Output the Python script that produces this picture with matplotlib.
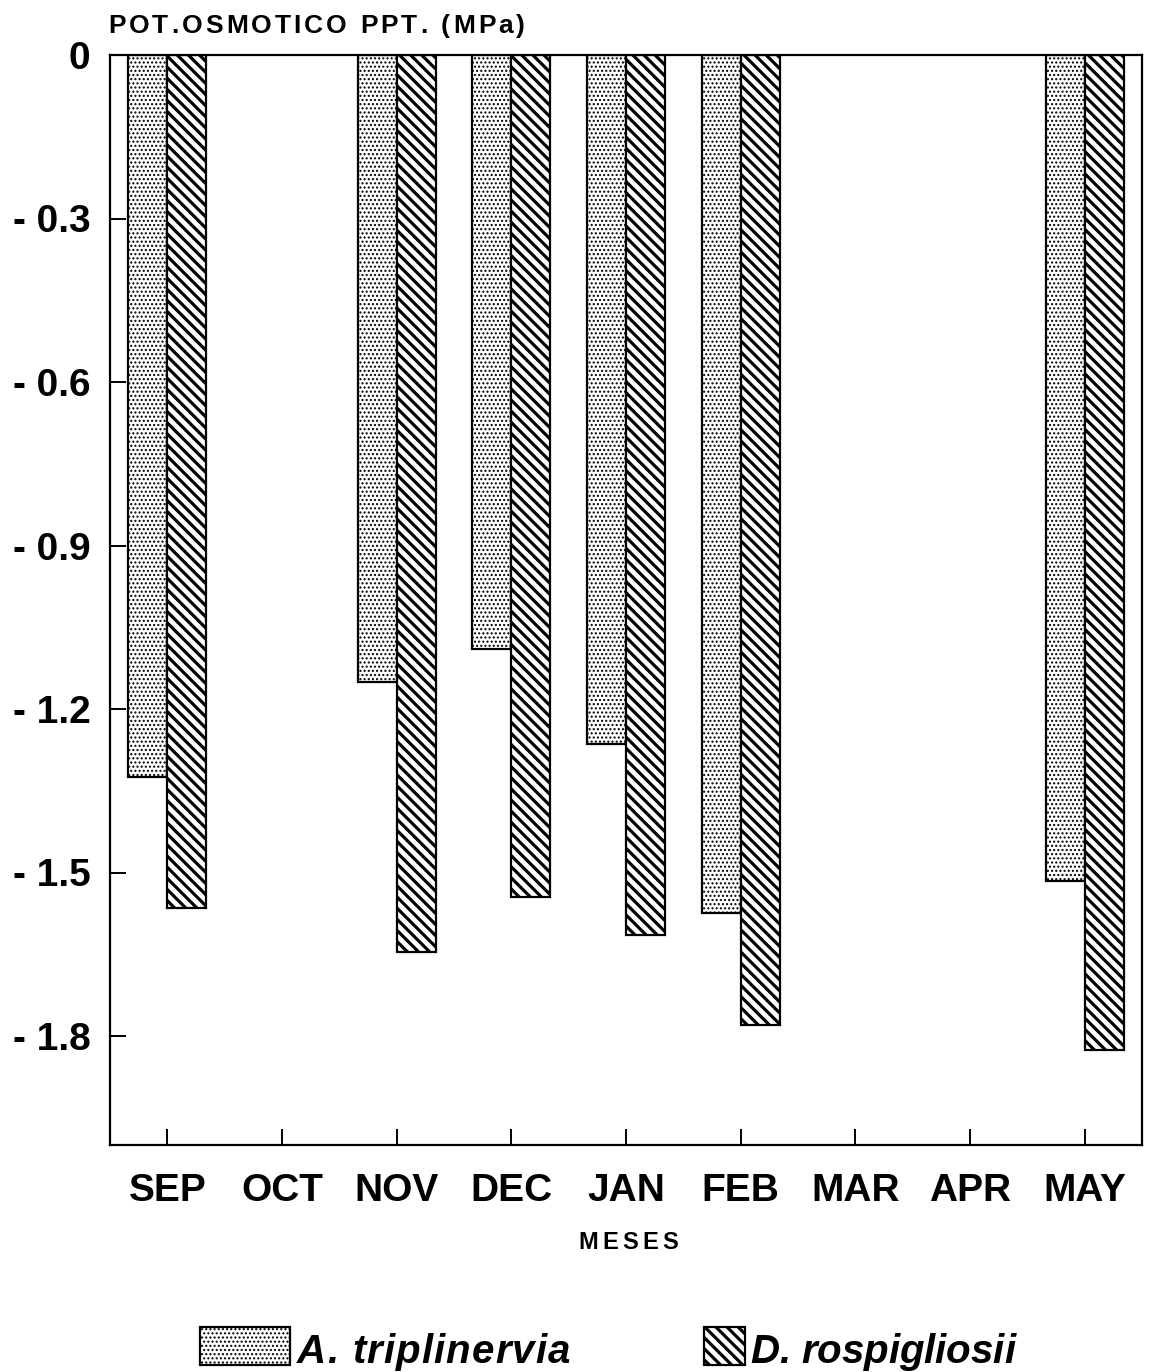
import matplotlib
matplotlib.use("Agg")
import matplotlib.pyplot as plt
from matplotlib.patches import Rectangle
from matplotlib.font_manager import FontProperties, findfont
from matplotlib.ft2font import FT2Font
import numpy as np

# Osmotic potential at full turgor (MPa) by month for two species
months = ["SEP", "OCT", "NOV", "DEC", "JAN", "FEB", "MAR", "APR", "MAY"]
a_triplinervia = [-1.325, None, -1.15, -1.09, -1.265, -1.575, None, None, -1.515]
d_rospigliosii = [-1.565, None, -1.645, -1.545, -1.615, -1.78, None, None, -1.825]
y_ticks = [0, -0.3, -0.6, -0.9, -1.2, -1.5, -1.8]
y_tick_labels = ["0", "- 0.3", "- 0.6", "- 0.9", "- 1.2", "- 1.5", "- 1.8"]
species = ["A. triplinervia", "D. rospigliosii"]

W, H, DPI = 1150, 1372, 100
FAMILY = "Liberation Sans"

plt.rcParams["font.family"] = [FAMILY, "DejaVu Sans"]
plt.rcParams["font.weight"] = "bold"

fig = plt.figure(figsize=(W / DPI, H / DPI), dpi=DPI)
fig.patch.set_facecolor("white")

ax_l, ax_r, ax_t, ax_b = 110, 1142, 55, 1145
ax = fig.add_axes([ax_l / W, 1 - ax_b / H, (ax_r - ax_l) / W, (ax_b - ax_t) / H])


def present(values):
    idx = [i for i, v in enumerate(values) if v is not None]
    return np.array(idx, dtype=float), np.array([values[i] for i in idx])


DOTS, DOTS_LW = "....", 1.0
STRIPES, STRIPES_LW = "\\\\\\", 2.3

bw = 0.34
xa, ya = present(a_triplinervia)
xd, yd = present(d_rospigliosii)
with plt.rc_context({"hatch.linewidth": DOTS_LW}):
    ax.bar(xa - bw / 2, ya, width=bw, facecolor="white", edgecolor="black",
           hatch=DOTS, linewidth=1.6, zorder=2)
with plt.rc_context({"hatch.linewidth": STRIPES_LW}):
    ax.bar(xd + bw / 2, yd, width=bw, facecolor="white", edgecolor="black",
           hatch=STRIPES, linewidth=1.6, zorder=2)

ax.set_xlim(-0.5, len(months) - 0.5)
ax.set_ylim(-2.0, 0)
ax.set_xticks(range(len(months)))
ax.set_xticklabels(months)
ax.set_yticks(y_ticks)
ax.set_yticklabels(y_tick_labels)
for s in ax.spines.values():
    s.set_linewidth(1.6)
ax.tick_params(axis="both", direction="in", length=11.5, width=1.4, labelsize=28)
ax.tick_params(axis="x", pad=20)
ax.tick_params(axis="y", pad=14)
for lbl in ax.get_xticklabels() + ax.get_yticklabels():
    lbl.set_fontweight("bold")


def tracked_text(s, left_px, right_px, baseline_px, size, style="normal"):
    """Draw a string with letter spacing so it spans left_px..right_px."""
    fp = FontProperties(family=FAMILY, weight="bold", style=style, size=size)
    font = FT2Font(findfont(fp))
    font.set_size(size, DPI)
    adv = []
    for ch in s:
        g = font.load_char(ord(ch))
        adv.append(g.linearHoriAdvance / 65536.0)
    natural = sum(adv[:-1])
    last = adv[-1]
    extra = (right_px - left_px - natural - last) / max(len(s) - 1, 1)
    x = left_px
    for ch, a in zip(s, adv):
        if ch != " ":
            fig.text(x / W, 1 - baseline_px / H, ch, fontproperties=fp,
                     ha="left", va="baseline")
        x += a + extra


tracked_text("POT.OSMOTICO PPT. (MPa)", 108, 525, 33, 19)
tracked_text("MESES", 578, 678, 1249, 17)

# Legend drawn in figure pixels
legend_items = [
    (species[0], DOTS, DOTS_LW, (200, 290), (297, 570)),
    (species[1], STRIPES, STRIPES_LW, (704, 745), (750, 1015)),
]
for label, hatch, hlw, (p0, p1), (t0, t1) in legend_items:
    with plt.rc_context({"hatch.linewidth": hlw}):
        rect = Rectangle((p0 / W, 1 - 1365 / H), (p1 - p0) / W, 38 / H,
                         transform=fig.transFigure, facecolor="white",
                         edgecolor="black", hatch=hatch, linewidth=1.6)
    fig.add_artist(rect)
    tracked_text(label, t0, t1, 1363, 29, style="italic")

fig.savefig("out.png", dpi=DPI, facecolor="white")
